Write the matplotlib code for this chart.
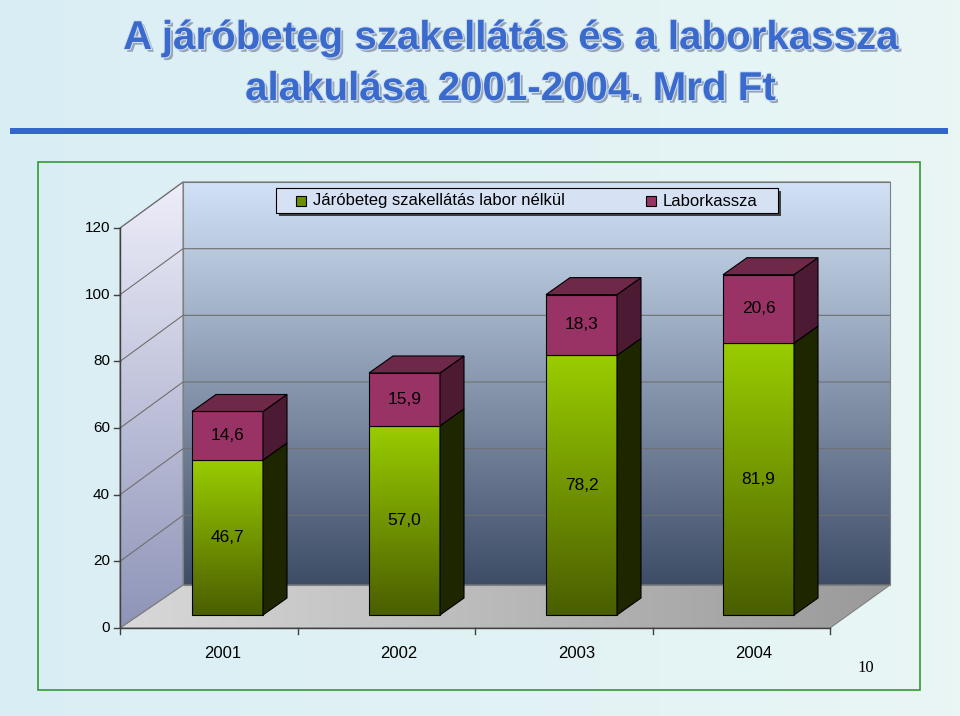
import numpy as np
import matplotlib
matplotlib.use("Agg")
import matplotlib.pyplot as plt
import matplotlib.patheffects as pe
from matplotlib.patches import Polygon
from matplotlib.colors import LinearSegmentedColormap

years = ["2001", "2002", "2003", "2004"]
jaro = [46.7, 57.0, 78.2, 81.9]
labor = [14.6, 15.9, 18.3, 20.6]
jaro_lbl = ["46,7", "57,0", "78,2", "81,9"]
labor_lbl = ["14,6", "15,9", "18,3", "20,6"]
yticks = [0, 20, 40, 60, 80, 100, 120]

W, H = 960, 716
fig = plt.figure(figsize=(W/100, H/100), dpi=100)
ax = fig.add_axes([0, 0, 1, 1])
SX, SY = 177.0, 3.32
X0P, Y0P = 227.5, 615.0
XL = (-X0P/SX, (W-X0P)/SX)
YL = ((Y0P-H)/SY, Y0P/SY)

def P(px, py):  # pixel -> data (decoration only)
    return ((px-X0P)/SX, (Y0P-py)/SY)

def grad_poly(pts, c_top, c_bot, z=1, horizontal=False):
    poly = Polygon(pts, closed=True, facecolor="none", edgecolor="none", zorder=z)
    ax.add_patch(poly)
    xs = [p[0] for p in pts]; ys = [p[1] for p in pts]
    cm = LinearSegmentedColormap.from_list("g", [c_bot, c_top])
    g = np.linspace(0, 1, 256)
    arr = g[None, :] if horizontal else g[:, None]
    im = ax.imshow(arr, cmap=cm, extent=[min(xs), max(xs), min(ys), max(ys)],
                   origin="lower", aspect="auto", zorder=z, interpolation="bilinear")
    im.set_clip_path(poly)
    return poly

grad_poly([P(0, 0), P(W, 0), P(W, H), P(0, H)], "#e9f6f4", "#d9eef4", z=0, horizontal=True)

# title
title_fx = [pe.SimpleLineShadow(offset=(2, -2), shadow_color="#8090a0", alpha=0.8, linewidth=0),
            pe.withStroke(linewidth=2, foreground="#cfe0f5")]
shadow = [pe.withSimplePatchShadow(offset=(2, -2), shadow_rgbFace="#8f9cb0", alpha=0.9),
          pe.withStroke(linewidth=1.5, foreground="#d0e0f4")]
ax.text(*P(510, 38), "A járóbeteg szakellátás és a laborkassza", ha="center", va="center",
        fontsize=29, fontweight="bold", color="#3a6acc", family="Liberation Sans", zorder=20,
        path_effects=shadow)
ax.text(*P(510, 89), "alakulása 2001-2004. Mrd Ft", ha="center", va="center",
        fontsize=29, fontweight="bold", color="#3a6acc", family="Liberation Sans", zorder=20,
        path_effects=shadow)
ax.add_patch(Polygon([P(10, 128), P(948, 128), P(948, 134), P(10, 134)], facecolor="#3366cc",
                     edgecolor="none", zorder=20))
ax.add_patch(Polygon([P(38, 162), P(920, 162), P(920, 690), P(38, 690)], closed=True,
                     facecolor="none", edgecolor="#339933", lw=1.2, zorder=20))

def fy(v):
    return 628 - 3.333*v
DYW = -46
grad_poly([P(183, 182), P(890, 182), P(890, 585), P(183, 585)], "#d2e2f6", "#3e4d66", z=1)
grad_poly([P(120, 228), P(183, 182), P(183, 585), P(120, 628)], "#eeeefa", "#8e94b8", z=1)
grad_poly([P(120, 628), P(183, 585), P(890, 585), P(830, 628)], "#9a9a9a", "#d8d8d8", z=1, horizontal=True)
for pts in ([P(183, 182), P(890, 182), P(890, 585), P(183, 585)],
            [P(120, 228), P(183, 182), P(183, 585), P(120, 628)],
            [P(120, 628), P(183, 585), P(890, 585), P(830, 628)]):
    ax.add_patch(Polygon(pts, facecolor="none", edgecolor="#808080", lw=0.8, zorder=2))
for v in yticks[1:]:
    yf = fy(v)
    ax.plot(*zip(P(120, yf), P(183, yf + DYW), P(890, yf + DYW)), color="#707070", lw=0.8, zorder=2)
ax.plot(*zip(P(120, 228), P(120, 628), P(830, 628)), color="#404040", lw=1, zorder=3)
for v in yticks:
    ax.plot(*zip(P(114, fy(v)), P(120, fy(v))), color="#404040", lw=1, zorder=3)
    ax.text(*P(110, fy(v)), str(v), ha="right", va="center", fontsize=11,
            family="Liberation Sans", color="black", zorder=5)
for k in range(5):
    xp = 120 + k*177.5
    ax.plot(*zip(P(xp, 628), P(xp, 634)), color="#404040", lw=1, zorder=3)

bw = 71/SX
ddx, ddy = 24/SX, 17/SY
green_top, green_bot = "#9acd00", "#4a5e00"
for i in range(len(years)):
    x0, x1 = i - bw/2, i + bw/2
    a, b = jaro[i], jaro[i] + labor[i]
    grad_poly([(x0, 0), (x1, 0), (x1, a), (x0, a)], green_top, green_bot, z=6)
    ax.add_patch(Polygon([(x0, 0), (x1, 0), (x1, a), (x0, a)], facecolor="none", edgecolor="black", lw=0.8, zorder=7))
    ax.add_patch(Polygon([(x1, 0), (x1+ddx, ddy), (x1+ddx, a+ddy), (x1, a)], facecolor="#1e2600", edgecolor="black", lw=0.8, zorder=7))
    ax.add_patch(Polygon([(x0, a), (x1, a), (x1, b), (x0, b)], facecolor="#993366", edgecolor="black", lw=0.8, zorder=7))
    ax.add_patch(Polygon([(x1, a), (x1+ddx, a+ddy), (x1+ddx, b+ddy), (x1, b)], facecolor="#4d1a33", edgecolor="black", lw=0.8, zorder=7))
    ax.add_patch(Polygon([(x0, b), (x1, b), (x1+ddx, b+ddy), (x0+ddx, b+ddy)], facecolor="#6e2848", edgecolor="black", lw=0.8, zorder=7))
    ax.text(i, a/2, jaro_lbl[i], ha="center", va="center", fontsize=12.5, family="Liberation Sans", zorder=8)
    ax.text(i, a + labor[i]/2, labor_lbl[i], ha="center", va="center", fontsize=12.5, family="Liberation Sans", zorder=8)
    ax.text(i - 0.03, P(0, 653)[1], years[i], ha="center", va="center", fontsize=12,
            family="Liberation Sans", zorder=8)

ax.add_patch(Polygon([P(279, 191), P(781, 191), P(781, 216), P(279, 216)], facecolor="#404040", edgecolor="none", zorder=9))
ax.add_patch(Polygon([P(276, 188), P(778, 188), P(778, 213), P(276, 213)], facecolor="#d6e2f4", edgecolor="black", lw=0.8, zorder=10))
for sx, lab, col in [(296, "Járóbeteg szakellátás labor nélkül", "#6e8e00"), (646, "Laborkassza", "#993366")]:
    ax.add_patch(Polygon([P(sx, 196), P(sx+10, 196), P(sx+10, 206), P(sx, 206)], facecolor=col, edgecolor="black", lw=0.8, zorder=11))
    ax.text(*P(sx+17, 201), lab, ha="left", va="center", fontsize=12, family="Liberation Sans", zorder=11)

ax.text(*P(866, 668), "10", ha="center", va="center", fontsize=12, family="Liberation Serif", zorder=11)

ax.set_xlim(*XL); ax.set_ylim(*YL)
ax.set_aspect("auto")
ax.axis("off")
fig.savefig("out.png", dpi=100)
